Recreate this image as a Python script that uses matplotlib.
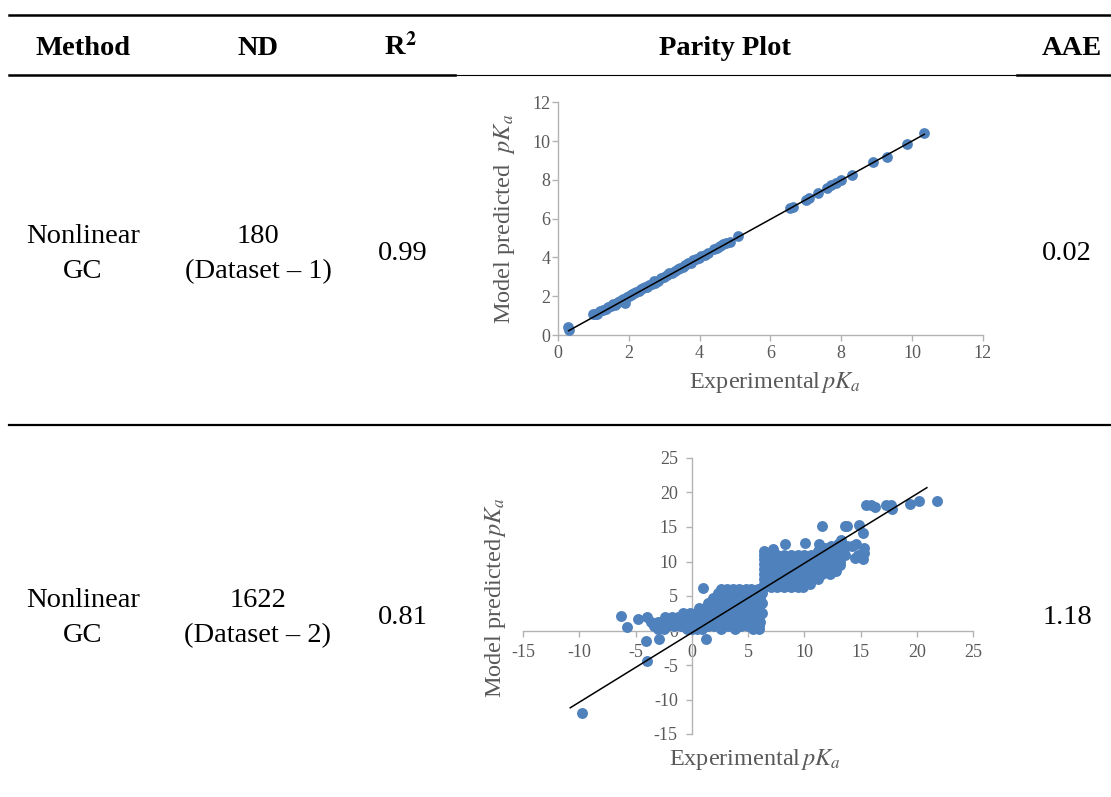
import matplotlib.pyplot as plt
from matplotlib.lines import Line2D

plt.rcParams['font.family'] = 'Liberation Serif'
plt.rcParams['mathtext.fontset'] = 'stix'
plt.rcParams['axes.unicode_minus'] = False

# table text
headers = ['Method', 'ND', r'R$^\mathbf{2}$', 'Parity Plot', 'AAE']
methods = ['Nonlinear\nGC', 'Nonlinear\nGC']
nd = ['180', '1622']
datasets = ['(Dataset \u2013 1)', '(Dataset \u2013 2)']
r2 = ['0.99', '0.81']
aae = ['0.02', '1.18']

# dataset 1 parity points
x1 = [0.28, 0.30, 1.00, 1.05, 1.10, 1.20, 1.28, 1.35, 1.42, 1.50, 1.55, 1.60, 1.65, 1.70, 1.75,
      1.80, 1.85, 1.90, 1.95, 2.00, 2.05, 2.10, 2.15, 2.20, 2.28, 2.35, 2.40, 2.45, 2.52, 2.58,
      2.65, 2.70, 2.75, 2.82, 2.90, 3.00, 3.08, 3.15, 3.22, 3.30, 3.38, 3.45, 3.52, 3.60, 3.68,
      3.75, 3.82, 3.90, 3.98, 4.05, 4.15, 4.25, 4.40, 4.50, 4.58, 4.65, 4.75, 4.85, 5.10, 6.55,
      6.65, 7.00, 7.10, 7.35, 7.60, 7.72, 7.85, 8.00, 8.30, 8.90, 9.30, 9.85, 10.35]
y1 = [0.42, 0.28, 1.08, 1.10, 1.08, 1.22, 1.30, 1.32, 1.45, 1.52, 1.58, 1.55, 1.62, 1.72, 1.75,
      1.78, 1.86, 1.65, 1.95, 2.02, 2.05, 2.12, 2.15, 2.22, 2.28, 2.35, 2.42, 2.45, 2.50, 2.58,
      2.65, 2.78, 2.70, 2.80, 2.92, 3.00, 3.08, 3.18, 3.20, 3.32, 3.40, 3.45, 3.52, 3.62, 3.70,
      3.72, 3.85, 3.92, 3.98, 4.05, 4.15, 4.25, 4.42, 4.50, 4.60, 4.68, 4.75, 4.82, 5.12, 6.55,
      6.62, 6.95, 7.08, 7.32, 7.58, 7.72, 7.82, 8.00, 8.25, 8.90, 9.20, 9.85, 10.40]
fit1_x = [0.30, 10.35]
fit1_y = [0.22, 10.35]

# dataset 2: lower cloud, read row by row (predicted value -> experimental values)
low_y = [6.0, 5.4, 4.7, 4.0, 3.3, 2.6, 1.9, 1.3, 0.7, 0.2]
low_x = [
    [2.6, 3.1, 3.7, 4.2, 4.8, 5.3, 5.9, 6.2],
    [2.3, 2.9, 3.5, 4.1, 4.7, 5.3, 5.8, 6.2],
    [1.9, 2.5, 3.1, 3.7, 4.3, 4.9, 5.5, 6.1],
    [1.4, 2.0, 2.6, 3.2, 3.8, 4.4, 5.0, 5.6, 6.2],
    [0.6, 1.2, 1.8, 2.4, 3.0, 3.6, 4.2, 4.8, 5.4, 6.0],
    [-0.8, -0.2, 0.4, 1.0, 1.6, 2.2, 2.8, 3.4, 4.0, 4.6, 5.2, 5.8, 6.2],
    [-2.4, -1.8, -1.2, -0.6, 0.0, 0.6, 1.2, 1.8, 2.4, 3.0, 3.6, 4.2, 4.8, 5.4, 6.0],
    [-3.6, -3.0, -2.4, -1.8, -1.2, -0.6, 0.0, 0.6, 1.2, 1.8, 2.4, 3.0, 3.6, 4.2, 4.8, 5.4, 6.1],
    [-3.4, -2.8, -2.2, -1.6, -1.0, -0.4, 0.2, 0.8, 1.4, 2.0, 2.6, 3.2, 3.8, 4.4, 5.0, 5.6, 6.0],
    [-3.0, -2.5, -0.4, 0.0, 0.5, 0.9, 2.6, 3.8, 5.4, 6.0],
]
# dataset 2: upper cloud
high_y = [11.5, 11.0, 10.3, 9.6, 8.9, 8.2, 7.5, 6.8, 6.3]
high_x = [
    [6.4, 7.2, 11.2, 11.8],
    [6.4, 7.0, 7.6, 8.2, 8.8, 9.4, 10.0, 10.6, 11.0],
    [6.4, 7.0, 7.6, 8.2, 8.8, 9.4, 10.0, 10.6, 11.2, 11.8],
    [6.4, 7.0, 7.6, 8.2, 8.8, 9.4, 10.0, 10.6, 11.2, 11.7],
    [6.4, 7.0, 7.6, 8.2, 8.8, 9.4, 10.0, 10.6, 11.2, 11.8, 12.2],
    [6.4, 7.0, 7.6, 8.2, 8.8, 9.4, 10.0, 10.6, 11.2, 11.6, 12.3],
    [6.4, 7.0, 7.6, 8.2, 8.8, 9.4, 10.0, 10.6, 11.2],
    [6.4, 7.0, 7.6, 8.2, 8.8, 9.4, 10.0, 10.5],
    [6.4, 7.0, 7.6, 8.2, 8.8, 9.4, 9.9],
]
band_x = [11.8, 12.4, 13.0, 13.3, 12.8, 13.4, 13.8, 12.2, 13.0, 13.6, 12.6, 13.2,
          12.0, 12.4, 13.2, 12.8, 14.2, 14.6, 15.3, 14.5, 15.2, 14.8, 15.3]
band_y = [12.0, 12.2, 12.6, 13.1, 11.5, 11.8, 12.2, 11.0, 10.6, 11.0, 9.8, 10.0,
          10.4, 9.2, 9.5, 8.6, 12.2, 12.5, 11.9, 10.5, 10.4, 11.0, 11.2]
out_x = [-9.8, -6.3, -5.8, -4.8, -4.0, -4.1, -4.0, -2.9, 0.97, 1.3, 8.3, 10.1, 11.3, 7.2,
         11.6, 13.6, 13.8, 14.9, 15.2, 15.5, 15.9, 16.3, 17.3, 17.7, 17.8, 19.4, 20.2, 21.8]
out_y = [-12.0, 2.1, 0.5, 1.6, 2.0, -1.5, -4.4, -1.2, 6.1, -1.2, 12.6, 12.7, 12.5, 11.8,
         15.2, 15.2, 15.2, 15.3, 14.2, 18.2, 18.2, 17.9, 18.2, 18.2, 17.6, 18.4, 18.8, 18.7]
fit2_x = [-10.8, 20.9]
fit2_y = [-11.2, 20.7]

x2, y2 = [], []
for yy, xs in zip(low_y + high_y, low_x + high_x):
    x2 += xs
    y2 += [yy] * len(xs)
x2 += band_x + out_x
y2 += band_y + out_y

blue = '#4f81bd'
gray_txt = '#595959'
gray_ax = '#b3b3b3'

W, H = 1111, 797
fig = plt.figure(figsize=(W / 100, H / 100), dpi=100)


def fx(px):
    return px / W


def fy(py):
    return 1 - py / H


def hline(x0, x1, y, lw):
    fig.add_artist(Line2D([fx(x0), fx(x1)], [fy(y), fy(y)], color='black', lw=lw))


# table rules
hline(9, 1111, 15, 1.8)
hline(9, 455, 75, 1.8)
hline(455, 1017, 75, 0.8)
hline(1017, 1111, 75, 1.8)
hline(9, 1111, 425, 1.6)

fs = 20.5
head_x = [83, 258, 400, 725, 1072]
for hx, h in zip(head_x, headers):
    fig.text(fx(hx), fy(55), h, ha='center', va='baseline', fontsize=fs, fontweight='bold')

row_base = [243, 607]
for i in range(2):
    b = row_base[i]
    m1, m2 = methods[i].split('\n')
    fig.text(fx(83), fy(b), m1, ha='center', va='baseline', fontsize=fs)
    fig.text(fx(83), fy(b + 35), m2, ha='center', va='baseline', fontsize=fs)
    fig.text(fx(258), fy(b), nd[i], ha='center', va='baseline', fontsize=fs)
    fig.text(fx(258), fy(b + 35), datasets[i], ha='center', va='baseline', fontsize=fs)
    fig.text(fx(403), fy(b + 17), r2[i], ha='center', va='baseline', fontsize=fs)
    fig.text(fx(1067), fy(b + 17), aae[i], ha='center', va='baseline', fontsize=fs)


def style(ax, pad):
    for s in ['top', 'right']:
        ax.spines[s].set_visible(False)
    for s in ['left', 'bottom']:
        ax.spines[s].set_color(gray_ax)
        ax.spines[s].set_linewidth(1.0)
    ax.tick_params(direction='out', length=4, width=1, color=gray_ax,
                   labelcolor=gray_txt, labelsize=13)
    ax.tick_params(axis='x', pad=pad[0])
    ax.tick_params(axis='y', pad=pad[1])
    ax.patch.set_alpha(0)


# parity plot 1
ax1 = fig.add_axes([fx(558), fy(335), 424.7 / W, 232.7 / H])
ax1.scatter(x1, y1, s=60, color=blue, zorder=3, linewidths=0)
ax1.plot(fit1_x, fit1_y, color='black', lw=1.1, zorder=4)
ax1.set_xlim(0, 12)
ax1.set_ylim(0, 12)
ax1.set_xticks(range(0, 13, 2))
ax1.set_yticks(range(0, 13, 2))
style(ax1, (3, 1.5))
ax1.set_xlabel(r'Experimental$\,pK_a$', fontsize=17.5, color=gray_txt)
ax1.set_ylabel(r'Model predicted  $pK_a$', fontsize=17.5, color=gray_txt)
ax1.xaxis.set_label_coords(0.511, -0.206)
ax1.yaxis.set_label_coords(-0.125, 0.5)
ax1.xaxis.label.set_va('center')
ax1.yaxis.label.set_va('center')

# parity plot 2
ax2 = fig.add_axes([fx(523), fy(734), 450 / W, 276 / H])
ax2.scatter(x2, y2, s=62, color=blue, zorder=3, linewidths=0)
ax2.plot(fit2_x, fit2_y, color='black', lw=1.1, zorder=4)
ax2.set_xlim(-15, 25)
ax2.set_ylim(-15, 25)
ax2.set_xticks(range(-15, 26, 5))
ax2.set_yticks(range(-15, 26, 5))
style(ax2, (6, 6))
ax2.spines['left'].set_position(('data', 0))
ax2.spines['bottom'].set_position(('data', 0))
ax2.set_xlabel(r'Experimental$\,pK_a$', fontsize=17.5, color=gray_txt)
ax2.set_ylabel(r'Model predicted$\,pK_a$', fontsize=17.5, color=gray_txt)
ax2.xaxis.set_label_coords(0.516, -0.094)
ax2.yaxis.set_label_coords(-0.062, 0.493)
ax2.xaxis.label.set_va('center')
ax2.yaxis.label.set_va('center')

fig.savefig('out.png', dpi=100)
